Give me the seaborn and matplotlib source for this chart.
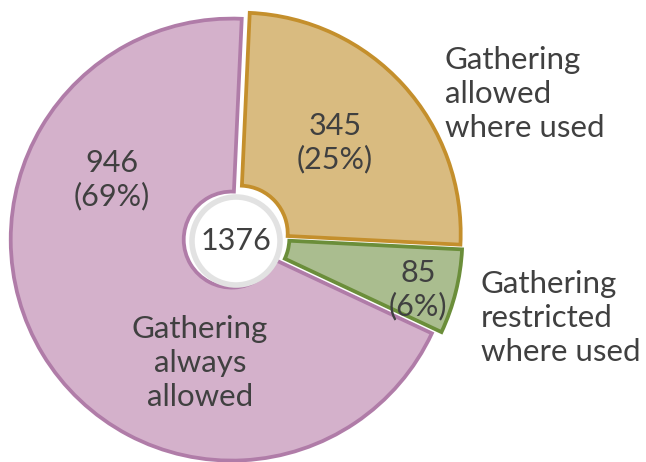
import numpy as np
import matplotlib
matplotlib.use("Agg")
import matplotlib.pyplot as plt
import seaborn as sns

# data
categories = ["Gathering allowed\nwhere used", "Gathering restricted\nwhere used", "Gathering always\nallowed"]
values = [345, 85, 946]
fill_colors = ["#D9BB80", "#AABD8F", "#D4B1CB"]
edge_colors = ["#C48F2C", "#6B8E3A", "#B07CA8"]

total = sum(values)
pcts = [v / total * 100 for v in values]

sns.set_theme(style="white")
plt.rcParams['font.family'] = ['Lato', 'DejaVu Sans']
text_color = "#404040"

fig = plt.figure(figsize=(6.46, 4.62), dpi=100)
ax = fig.add_axes([0, 0, 1, 1])

H = 462
cx, cy = 236, H - 237
R = 221
r_in = 48

# explode is in data units (pixels here)
wedges, _ = ax.pie(values, colors=fill_colors, startangle=87.4, counterclock=False,
                   explode=[5, 5.5, 5], center=(cx, cy), radius=R,
                   wedgeprops=dict(width=R - r_in, linewidth=2.7), frame=True)
for w, ec in zip(wedges, edge_colors):
    w.set_edgecolor(ec)
    w.set_joinstyle('miter')

# centre circle
circ = plt.Circle((236, H - 241), 44, facecolor="white", edgecolor="#E2E2E2", linewidth=4, zorder=5)
ax.add_patch(circ)
ax.text(236, H - 241, str(total), ha='center', va='center', fontsize=22, color=text_color, zorder=6)

ax.set_xlim(0, 646)
ax.set_ylim(0, H)
ax.set_aspect('equal')
ax.axis('off')

# value labels (pixel positions from top-left)
val_pos = [(335, 143), (418, 290), (112, 180)]
for (px, py), v, p in zip(val_pos, values, pcts):
    ax.text(px, H - py, f"{v}\n({p:.0f}%)", ha='center', va='center',
            fontsize=22, color=text_color, linespacing=1.2)

# category labels
cat_pos = [(445, 94, 'left'), (481, 318, 'left'), (200, 363, 'center')]
for (px, py, ha), c in zip(cat_pos, categories):
    ax.text(px, H - py, c.replace("Gathering ", "Gathering\n"), ha=ha, va='center',
            fontsize=22.5, color=text_color, linespacing=1.25)

fig.savefig("out.png", dpi=100)
